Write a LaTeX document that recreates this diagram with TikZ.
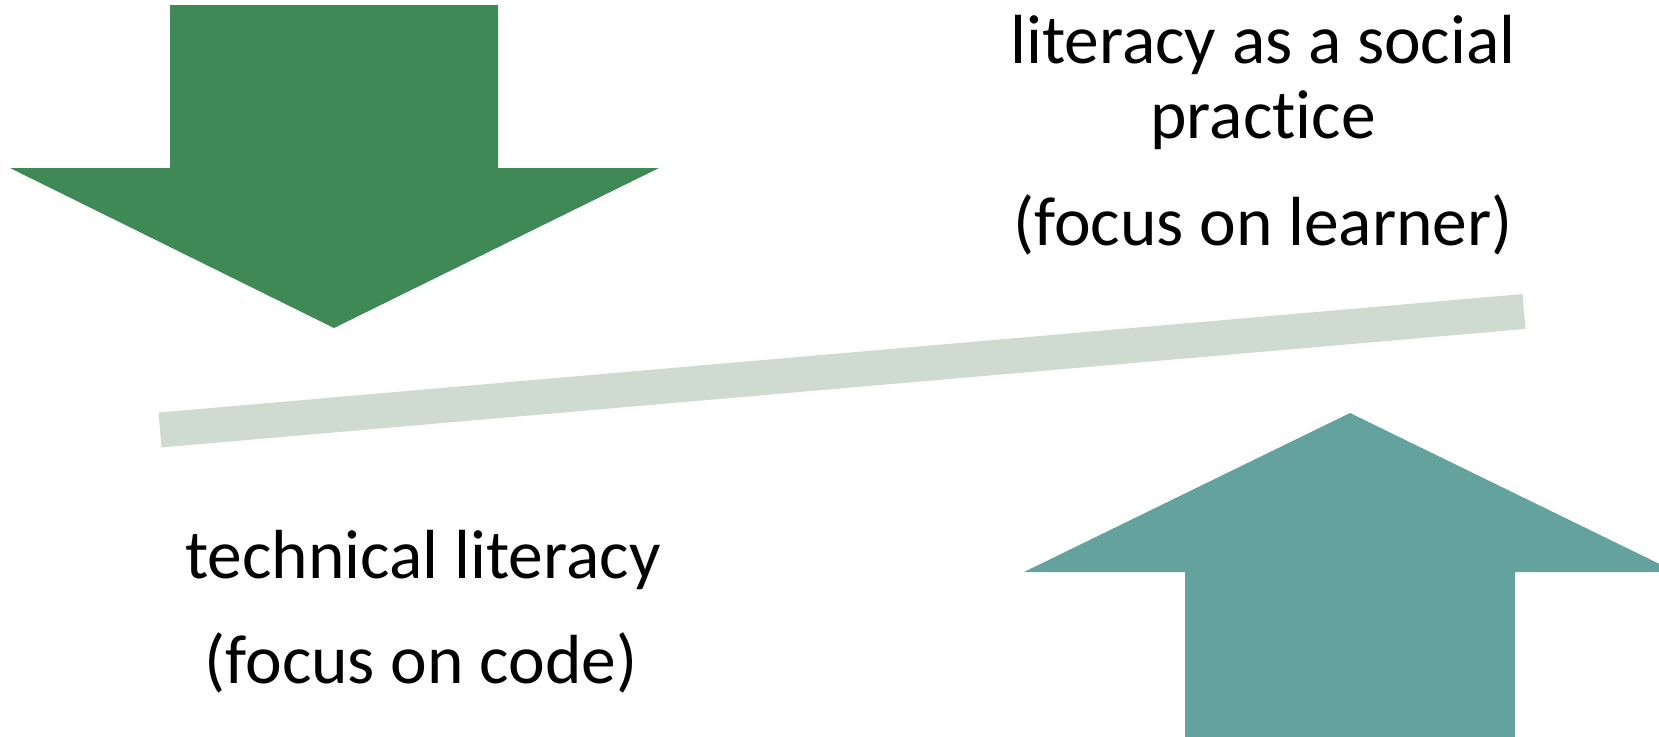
\documentclass[tikz,border=0pt]{standalone}
\usepackage{fontspec}
\setmainfont{Carlito}[Ligatures=NoCommon]
\usepackage{tikz}

\definecolor{downgreen}{RGB}{62,137,86}
\definecolor{upteal}{RGB}{100,162,158}
\definecolor{beamgrey}{RGB}{207,218,209}

\begin{document}
\begin{tikzpicture}[line cap=round,line join=round,x=1pt,y=-1pt,
	label/.style={inner sep=0pt,anchor=base,font=\fontsize{69.5}{75}\selectfont},
	blockarrow/.style={draw=none}]
	\useasboundingbox (0,0) rectangle (1659,736);
	\clip (0,0) rectangle (1659,736);
	% tilted beam
	\draw[beamgrey,line width=35pt,line cap=butt] (160,430)-- (1524,311.5);
	% arrow pressing down
	\fill[downgreen,blockarrow] (170,5)-- (498,5)-- (498,168)-- (659,168)-- (334,328)-- (10,168)-- (170,168)-- cycle;
	% arrow pushing up
	\fill[upteal,blockarrow] (1185,740)-- (1185,572)-- (1024,572)-- (1350,413)-- (1676,572)-- (1515,572)-- (1515,740)-- cycle;
	% labels
	\node[label] (social) at (1263,63) {literacy as a social};
	\node[label] (practice) at (1263,138) {practice};
	\node[label] (learner) at (1263,245) {(focus on learner)};
	\node[label] (technical) at (423,578) {technical literacy};
	\node[label] (code) at (421,683) {(focus on code)};
\end{tikzpicture}
\end{document}
